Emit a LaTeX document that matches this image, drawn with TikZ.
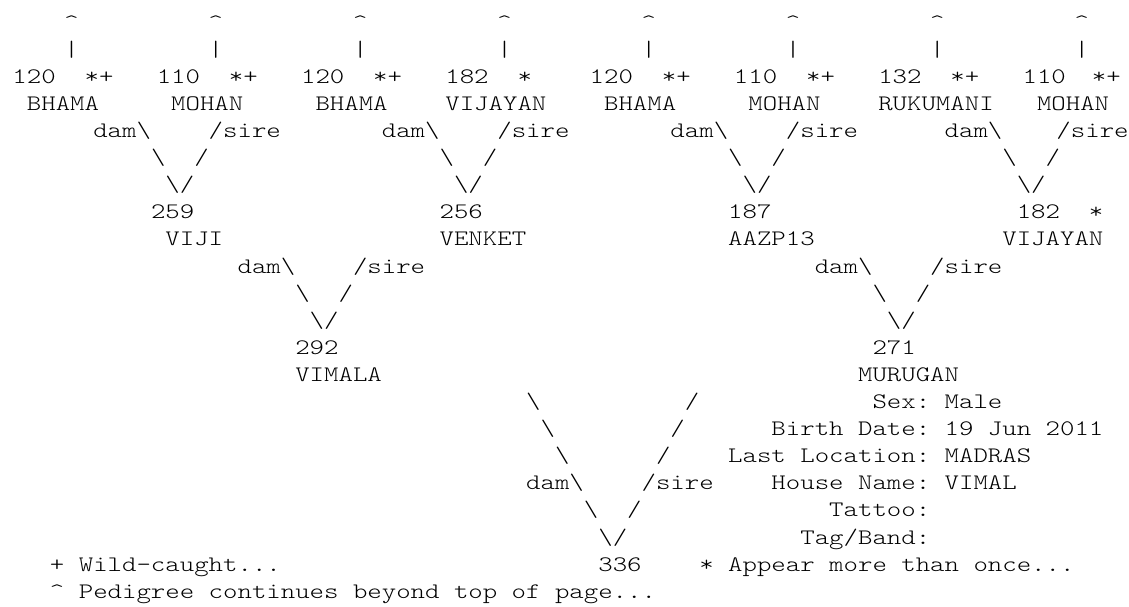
\documentclass[tikz,border=0pt]{standalone}
\usepackage{fontspec}
\usepackage{graphicx}
\newfontfamily\pedfont{lmmonolt10-regular.otf}
\frenchspacing
\tikzset{
  x=0.75pt, y=-0.75pt,
  txt/.style={anchor=base west, inner sep=0pt, outer sep=0pt,
    font=\pedfont\fontsize{16.6pt}{18pt}\selectfont}
}
% \ptxt[shift]{line}{column}{text}
\newcommand\ptxt[4][0]{%
  \node[txt] (L#2C#3) at ({6.7+(#3+#1)*14.43},{83.3+(#2-3)*27.1}) {\scalebox{1.2418}[1]{#4}};}
\newcommand\bs{\textbackslash}
\begin{document}
\begin{tikzpicture}
\fill[white] (0,0) rectangle (1129,607);
\useasboundingbox (0,0) rectangle (1129,607);
% line 1 and 2
\foreach \c in {4,14,24,34,44,54,64,74}{\ptxt{1}{\c}{\textasciicircum}}
\foreach \c in {4,14,24,34,44,54,64,74}{\ptxt{2}{\c}{\textbar}}
% line 3
\ptxt[0.4]{3}{0}{120}\ptxt[0.4]{3}{5}{*+}
\ptxt[0.4]{3}{10}{110}\ptxt[0.4]{3}{15}{*+}
\ptxt[0.4]{3}{20}{120}\ptxt[0.4]{3}{25}{*+}
\ptxt[0.4]{3}{30}{182}\ptxt[0.4]{3}{35}{*}
\ptxt[0.4]{3}{40}{120}\ptxt[0.4]{3}{45}{*+}
\ptxt[0.4]{3}{50}{110}\ptxt[0.4]{3}{55}{*+}
\ptxt[0.4]{3}{60}{132}\ptxt[0.4]{3}{65}{*+}
\ptxt[0.4]{3}{70}{110}\ptxt[0.2]{3}{75}{*+}
% line 4
\ptxt[0.4]{4}{1}{BHAMA}
\ptxt[0.4]{4}{11}{MOHAN}
\ptxt[0.4]{4}{21}{BHAMA}
\ptxt[0.4]{4}{30}{VIJAYAN}
\ptxt[0.4]{4}{41}{BHAMA}
\ptxt[0.4]{4}{51}{MOHAN}
\ptxt[0.4]{4}{60}{RUKUMANI}
\ptxt[0.4]{4}{71}{MOHAN}
% line 5
\ptxt{5}{6}{dam\bs}\ptxt{5}{14}{/sire}
\ptxt{5}{26}{dam\bs}\ptxt{5}{34}{/sire}
\ptxt{5}{46}{dam\bs}\ptxt{5}{54}{/sire}
\ptxt{5}{65}{dam\bs}\ptxt[-0.25]{5}{73}{/sire}
% line 6
\ptxt{6}{10}{\bs}\ptxt{6}{13}{/}
\ptxt{6}{30}{\bs}\ptxt{6}{33}{/}
\ptxt{6}{50}{\bs}\ptxt{6}{53}{/}
\ptxt{6}{69}{\bs}\ptxt{6}{72}{/}
% line 7
\ptxt{7}{11}{\bs/}
\ptxt{7}{31}{\bs/}
\ptxt{7}{51}{\bs/}
\ptxt{7}{70}{\bs/}
% line 8
\ptxt{8}{10}{259}
\ptxt{8}{30}{256}
\ptxt{8}{50}{187}
\ptxt{8}{70}{182}\ptxt{8}{75}{*}
% line 9
\ptxt{9}{11}{VIJI}
\ptxt{9}{30}{VENKET}
\ptxt{9}{50}{AAZP13}
\ptxt{9}{69}{VIJAYAN}
% line 10
\ptxt{10}{16}{dam\bs}\ptxt{10}{24}{/sire}
\ptxt{10}{56}{dam\bs}\ptxt{10}{64}{/sire}
% line 11
\ptxt{11}{20}{\bs}\ptxt{11}{23}{/}
\ptxt{11}{60}{\bs}\ptxt{11}{63}{/}
% line 12
\ptxt{12}{21}{\bs/}
\ptxt{12}{61}{\bs/}
% line 13
\ptxt{13}{20}{292}
\ptxt{13}{60}{271}
% line 14
\ptxt{14}{20}{VIMALA}
\ptxt{14}{59}{MURUGAN}
% line 15
\ptxt{15}{36}{\bs}\ptxt{15}{47}{/}
\ptxt{15}{60}{Sex:}\ptxt{15}{65}{Male}
% line 16
\ptxt{16}{37}{\bs}\ptxt{16}{46}{/}
\ptxt{16}{53}{Birth Date:}\ptxt{16}{65}{19 Jun 2011}
% line 17
\ptxt{17}{38}{\bs}\ptxt{17}{45}{/}
\ptxt{17}{50}{Last Location:}\ptxt{17}{65}{MADRAS}
% line 18
\ptxt{18}{36}{dam\bs}\ptxt{18}{44}{/sire}
\ptxt{18}{53}{House Name:}\ptxt{18}{65}{VIMAL}
% line 19
\ptxt{19}{40}{\bs}\ptxt{19}{43}{/}
\ptxt{19}{57}{Tattoo:}
% line 20
\ptxt{20}{41}{\bs/}
\ptxt{20}{55}{Tag/Band:}
% line 21
\ptxt{21}{3}{+ Wild-caught...}
\ptxt{21}{41}{336}
\ptxt{21}{48}{* Appear more than once...}
% line 22
\ptxt{22}{3}{\textasciicircum{} Pedigree continues beyond top of page...}
\end{tikzpicture}
\end{document}
